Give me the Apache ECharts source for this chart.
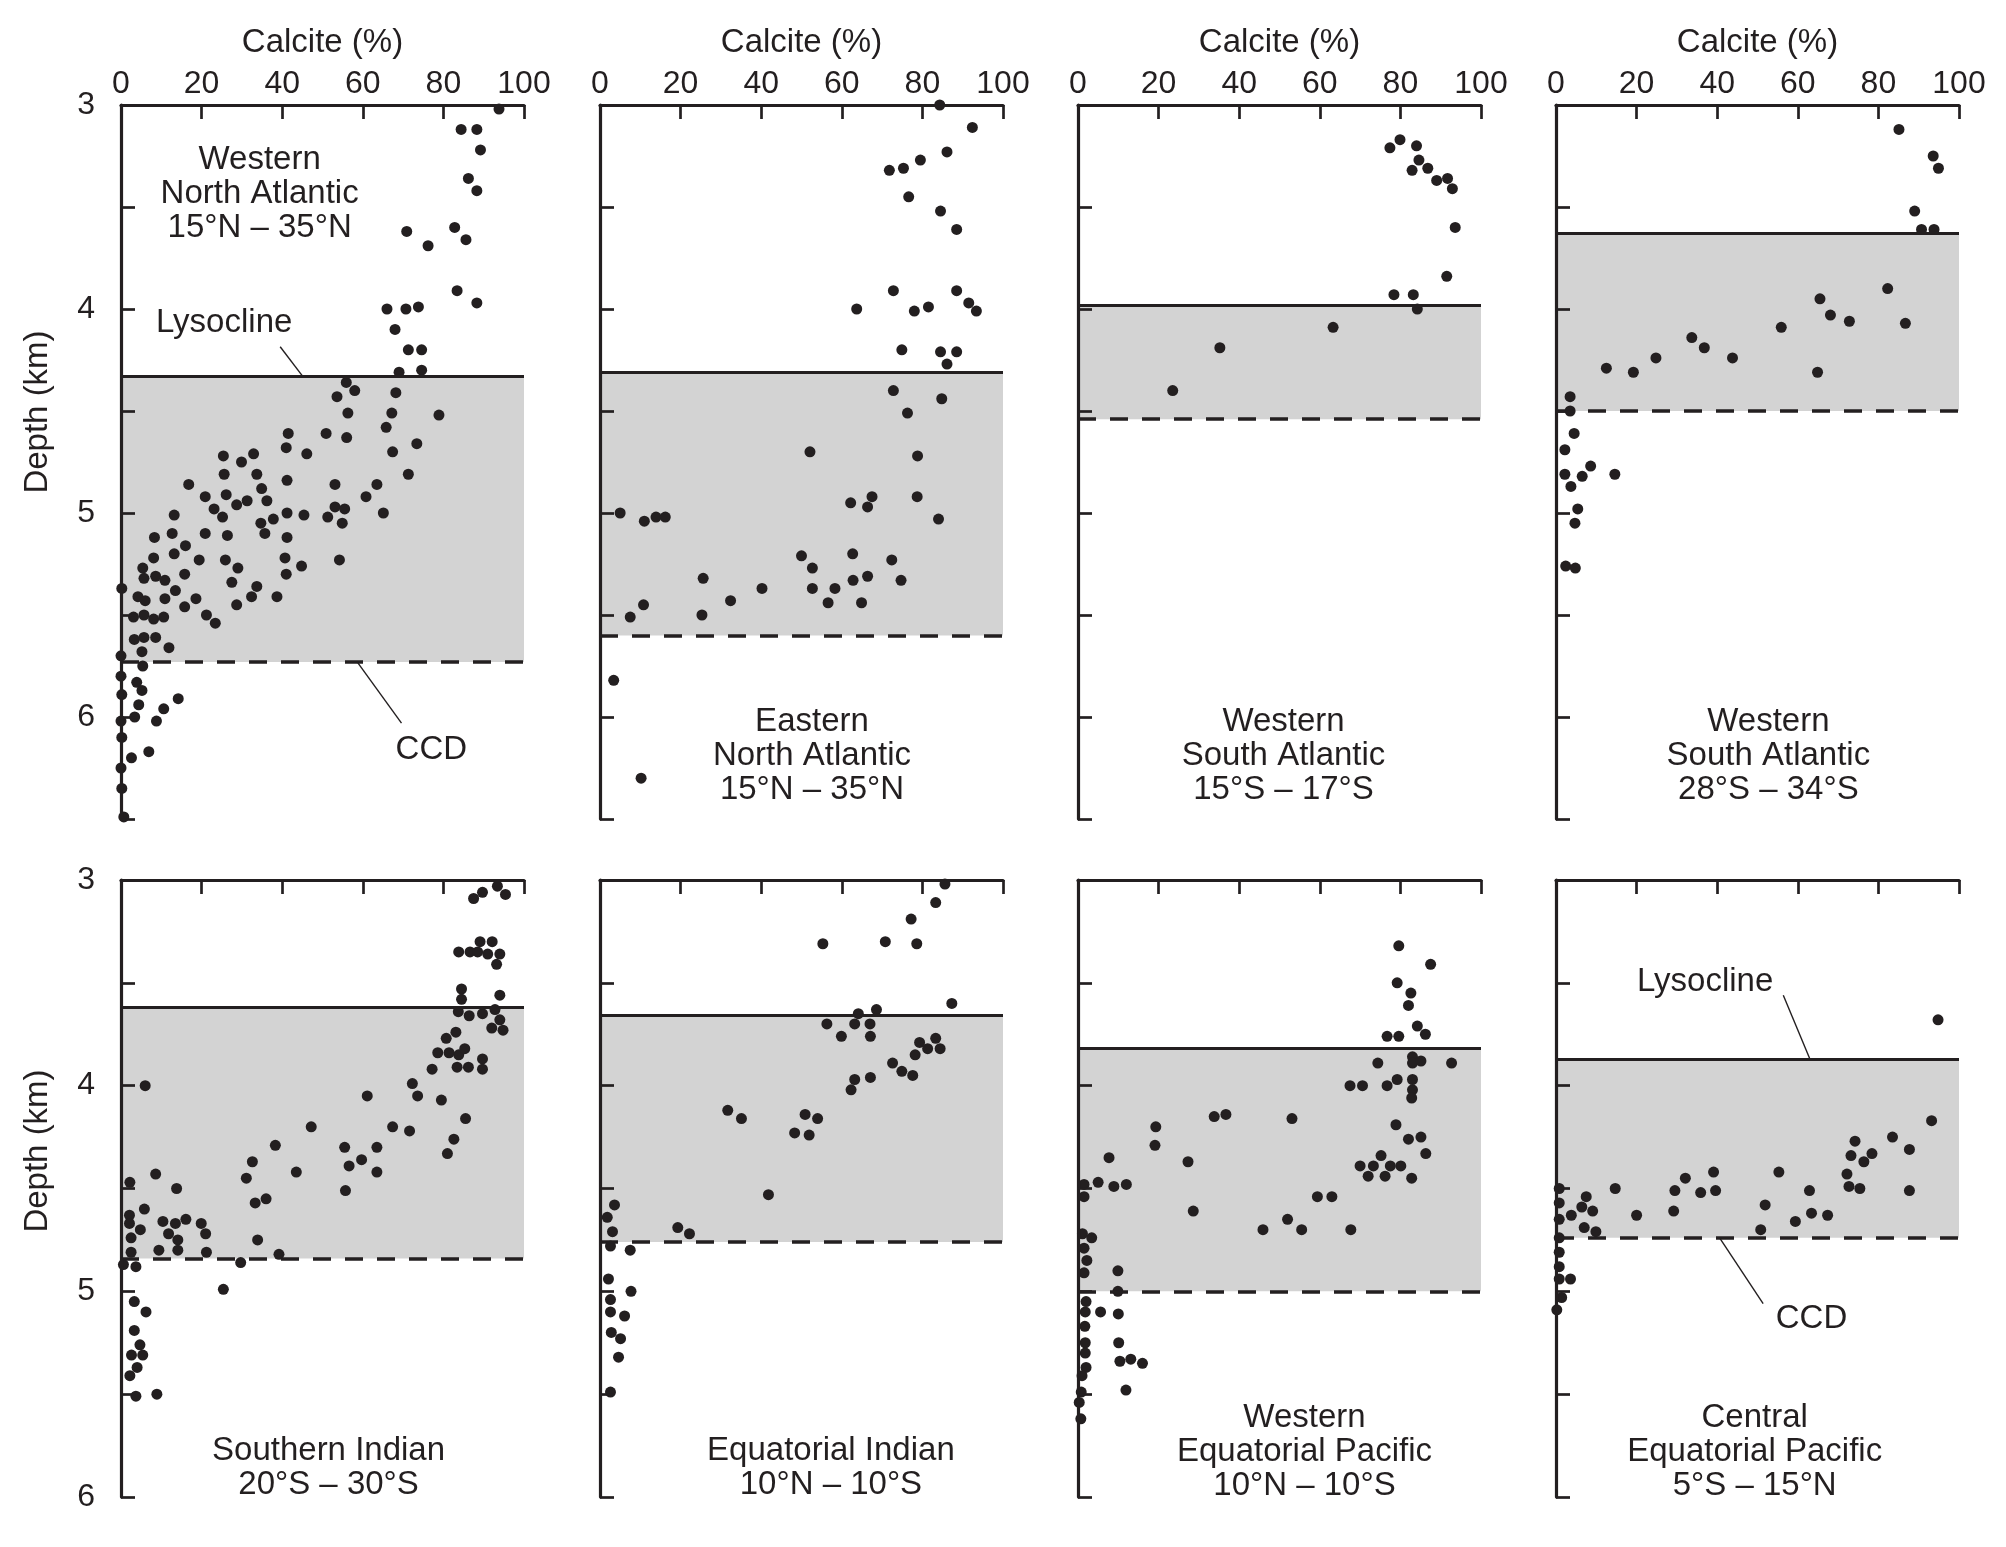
<!DOCTYPE html>
<html>
<head>
<meta charset="utf-8">
<title>Calcite vs depth</title>
<script src="https://cdn.jsdelivr.net/npm/echarts@6/dist/echarts.min.js"></script>
<style>
  html, body { margin: 0; padding: 0; background: #fff; }
  #chart { width: 2006px; height: 1547px; }
</style>
</head>
<body>
<div id="chart"></div>
<script>
// [calcite %, depth km] per region
const westNorthAtlantic = [
  [93.8,3.02],[84.4,3.12],[88.3,3.12],[89.2,3.22],[86.2,3.36],[88.3,3.42],[70.9,3.62],[82.8,3.60],[85.6,3.66],[76.2,3.69],
  [83.4,3.91],[88.3,3.97],[66.0,4.00],[70.7,4.00],[73.8,3.99],[68.0,4.10],[71.3,4.20],[74.6,4.20],[69.0,4.31],[74.6,4.30],
  [55.9,4.36],[58.0,4.40],[53.6,4.43],[68.2,4.41],[56.3,4.51],[67.2,4.51],[78.9,4.52],[65.8,4.58],[41.5,4.61],[50.9,4.61],
  [56.0,4.63],[41.0,4.68],[67.4,4.70],[73.4,4.66],[46.1,4.71],[25.4,4.72],[32.9,4.71],[29.9,4.75],[25.6,4.81],[33.7,4.81],
  [71.3,4.81],[34.9,4.88],[41.2,4.84],[16.8,4.86],[53.1,4.86],[63.5,4.86],[20.9,4.92],[26.1,4.91],[31.3,4.94],[36.2,4.94],
  [28.7,4.96],[60.8,4.92],[23.1,4.98],[53.1,4.97],[55.5,4.98],[25.2,5.02],[13.2,5.01],[41.2,5.00],[45.4,5.01],[51.3,5.02],
  [65.1,5.00],[34.7,5.05],[37.8,5.03],[54.9,5.05],[35.7,5.10],[12.7,5.10],[20.9,5.10],[26.4,5.11],[8.3,5.12],[41.2,5.12],
  [16.0,5.16],[13.2,5.20],[8.1,5.22],[19.4,5.23],[25.9,5.23],[40.7,5.22],[54.2,5.23],[5.4,5.27],[29.0,5.27],[44.8,5.26],
  [5.7,5.32],[8.6,5.31],[10.9,5.33],[15.8,5.30],[41.0,5.30],[27.5,5.34],[0.2,5.37],[13.5,5.38],[33.7,5.36],[4.2,5.41],
  [6.0,5.43],[10.9,5.42],[18.6,5.42],[32.4,5.41],[38.7,5.41],[15.8,5.46],[28.7,5.45],[3.1,5.51],[5.7,5.50],[8.1,5.52],
  [10.6,5.51],[21.2,5.50],[23.4,5.54],[3.3,5.62],[5.7,5.61],[8.6,5.61],[11.9,5.66],[5.2,5.68],[0,5.70],[5.4,5.75],
  [0,5.80],[3.9,5.83],[5.2,5.87],[0.2,5.89],[4.4,5.94],[14.2,5.91],[10.6,5.96],[0,6.02],[3.4,6.00],[8.8,6.02],
  [0.2,6.10],[6.9,6.17],[2.6,6.20],[0,6.25],[0.2,6.35],[0.7,6.49]
];
const eastNorthAtlantic = [
  [84.3,3.00],[92.4,3.11],[86.1,3.23],[79.5,3.27],[71.8,3.32],[75.3,3.31],[76.6,3.45],[84.5,3.52],[88.5,3.61],[72.8,3.91],
  [88.5,3.91],[91.5,3.97],[93.4,4.01],[63.7,4.00],[78.0,4.01],[81.5,3.99],[74.9,4.20],[84.5,4.21],[88.5,4.21],[86.1,4.27],
  [72.8,4.40],[84.8,4.44],[76.3,4.51],[78.8,4.72],[52.1,4.70],[67.5,4.92],[78.7,4.92],[62.2,4.95],[66.4,4.97],[5.0,5.00],
  [11.0,5.04],[13.9,5.02],[16.2,5.02],[84.0,5.03],[50.0,5.21],[62.7,5.20],[72.4,5.23],[52.7,5.27],[25.6,5.32],[62.8,5.33],
  [66.4,5.31],[74.7,5.33],[40.2,5.37],[52.7,5.37],[58.3,5.37],[32.4,5.43],[56.6,5.44],[64.9,5.44],[10.8,5.45],[7.5,5.51],
  [25.3,5.50],[3.4,5.82],[10.2,6.30]
];
const westSouthAtlanticN = [
  [77.4,3.21],[79.9,3.17],[84.0,3.20],[84.6,3.27],[82.9,3.32],[86.8,3.31],[89.0,3.37],[91.7,3.36],[92.9,3.41],[93.6,3.60],
  [91.5,3.84],[78.4,3.93],[83.2,3.93],[84.2,4.00],[63.3,4.09],[35.2,4.19],[23.5,4.40]
];
const westSouthAtlanticS = [
  [85.1,3.12],[93.6,3.25],[94.9,3.31],[89.0,3.52],[90.7,3.61],[93.8,3.61],[82.3,3.90],[65.5,3.95],[68.1,4.03],[72.8,4.06],
  [86.7,4.07],[55.9,4.09],[33.7,4.14],[36.8,4.19],[24.8,4.24],[43.8,4.24],[12.5,4.29],[19.2,4.31],[64.9,4.31],[3.5,4.43],
  [3.5,4.50],[4.5,4.61],[2.2,4.69],[8.6,4.77],[2.2,4.81],[6.5,4.82],[14.6,4.81],[3.7,4.87],[5.4,4.98],[4.7,5.05],
  [2.4,5.26],[4.8,5.27]
];
const southernIndian = [
  [93.4,3.03],[95.4,3.07],[89.7,3.06],[87.5,3.09],[89.1,3.30],[92.1,3.30],[83.8,3.35],[86.6,3.35],[88.5,3.35],[91.0,3.36],
  [94.0,3.36],[93.2,3.41],[84.5,3.53],[84.5,3.58],[94.0,3.56],[83.7,3.64],[86.4,3.66],[89.7,3.65],[92.8,3.63],[94.0,3.68],
  [92.0,3.72],[94.8,3.73],[83.1,3.74],[80.7,3.77],[78.6,3.84],[81.4,3.84],[83.8,3.85],[85.3,3.82],[89.7,3.87],[77.2,3.92],
  [83.4,3.91],[86.2,3.91],[89.7,3.92],[72.3,3.99],[73.6,4.05],[79.5,4.07],[61.1,4.05],[6.0,4.00],[85.5,4.16],[47.2,4.20],
  [67.4,4.20],[71.6,4.22],[82.6,4.26],[81.0,4.33],[38.3,4.29],[55.5,4.30],[63.5,4.30],[32.6,4.37],[56.6,4.39],[59.7,4.36],
  [63.5,4.42],[43.5,4.42],[31.1,4.45],[8.6,4.43],[2.2,4.47],[55.7,4.51],[13.8,4.50],[36.0,4.55],[33.3,4.57],[5.8,4.60],
  [2.1,4.63],[2.1,4.67],[10.4,4.66],[13.5,4.67],[16.1,4.65],[19.9,4.67],[4.8,4.70],[11.8,4.72],[21.0,4.72],[2.5,4.74],
  [14.1,4.75],[33.9,4.75],[2.5,4.81],[9.4,4.80],[14.1,4.80],[21.2,4.81],[39.2,4.82],[0.6,4.87],[3.7,4.88],[29.7,4.86],
  [25.4,4.99],[3.3,5.05],[6.2,5.10],[3.3,5.19],[4.7,5.26],[2.6,5.31],[5.4,5.31],[4.0,5.37],[2.2,5.41],[3.7,5.51],
  [8.9,5.50]
];
const equatorialIndian = [
  [85.6,3.02],[83.3,3.11],[77.2,3.19],[55.3,3.31],[70.8,3.30],[78.6,3.31],[87.3,3.60],[64.1,3.65],[68.6,3.63],[56.3,3.70],
  [63.2,3.70],[67.0,3.70],[59.9,3.76],[67.1,3.76],[79.3,3.79],[81.3,3.82],[83.3,3.77],[84.4,3.82],[78.2,3.85],[72.6,3.89],
  [74.9,3.93],[77.6,3.95],[63.2,3.97],[67.1,3.96],[62.3,4.02],[31.7,4.12],[35.1,4.16],[50.9,4.14],[54.0,4.16],[48.3,4.23],
  [51.9,4.24],[41.8,4.53],[3.6,4.58],[1.8,4.64],[3.1,4.71],[19.3,4.69],[22.2,4.72],[2.6,4.78],[7.5,4.80],[2.1,4.94],
  [7.7,5.00],[2.6,5.04],[2.6,5.10],[6.1,5.12],[2.8,5.20],[5.1,5.23],[4.6,5.32],[2.6,5.49]
];
const westEqPacific = [
  [79.6,3.32],[87.5,3.41],[79.2,3.50],[82.6,3.55],[82.0,3.61],[84.2,3.71],[86.2,3.75],[76.7,3.76],[79.6,3.76],[83.0,3.86],
  [83.0,3.89],[85.1,3.88],[74.4,3.89],[92.7,3.89],[79.2,3.97],[83.0,3.97],[83.0,4.02],[82.8,4.06],[67.5,4.00],[70.6,4.00],
  [76.7,4.00],[33.8,4.15],[36.7,4.14],[53.1,4.16],[19.3,4.20],[78.9,4.19],[19.1,4.29],[82.0,4.26],[85.1,4.25],[86.3,4.33],
  [7.7,4.35],[27.3,4.37],[75.2,4.34],[70.0,4.39],[73.3,4.39],[77.5,4.39],[80.1,4.39],[72.0,4.44],[76.2,4.44],[82.8,4.45],
  [1.5,4.48],[5.0,4.47],[8.9,4.49],[12.0,4.48],[1.5,4.54],[59.4,4.54],[63.0,4.54],[28.6,4.61],[52.0,4.65],[45.9,4.70],
  [55.5,4.70],[67.7,4.70],[1.1,4.72],[3.4,4.74],[1.5,4.79],[2.2,4.85],[1.5,4.91],[9.9,4.90],[9.9,5.00],[2.0,5.05],
  [1.8,5.10],[5.6,5.10],[10.0,5.11],[1.7,5.17],[1.8,5.25],[10.1,5.25],[1.8,5.30],[2.0,5.37],[10.4,5.34],[13.1,5.33],
  [16.0,5.35],[1.0,5.41],[0.8,5.49],[11.9,5.48],[0.3,5.54],[0.7,5.62]
];
const centralEqPacific = [
  [94.8,3.68],[93.2,4.17],[83.5,4.25],[87.7,4.31],[87.7,4.51],[74.2,4.27],[73.2,4.34],[76.4,4.37],[78.4,4.33],[72.2,4.43],
  [72.7,4.49],[75.4,4.50],[55.3,4.42],[62.9,4.51],[63.4,4.62],[67.4,4.63],[59.4,4.66],[51.9,4.58],[50.8,4.70],[39.1,4.42],
  [39.6,4.51],[32.1,4.45],[35.9,4.52],[29.5,4.51],[29.2,4.61],[20.0,4.63],[14.7,4.50],[7.5,4.54],[6.4,4.59],[9.1,4.61],
  [3.8,4.63],[7.0,4.69],[9.9,4.71],[0.8,4.50],[0.8,4.57],[0.8,4.65],[0.8,4.74],[0.8,4.81],[0.8,4.88],[0.8,4.94],
  [3.6,4.94],[1.4,5.03],[0.2,5.09]
];

const regions = [westNorthAtlantic, eastNorthAtlantic, westSouthAtlanticN, westSouthAtlanticS,
                 southernIndian, equatorialIndian, westEqPacific, centralEqPacific];
const lysocline = [4.33, 4.31, 3.975, 3.63, 3.62, 3.66, 3.82, 3.87];
const ccd = [5.73, 5.60, 4.54, 4.50, 4.84, 4.76, 5.00, 4.74];
const regionLabels = [
  'Western\nNorth Atlantic\n15°N – 35°N',
  'Eastern\nNorth Atlantic\n15°N – 35°N',
  'Western\nSouth Atlantic\n15°S – 17°S',
  'Western\nSouth Atlantic\n28°S – 34°S',
  'Southern Indian\n20°S – 30°S',
  'Equatorial Indian\n10°N – 10°S',
  'Western\nEquatorial Pacific\n10°N – 10°S',
  'Central\nEquatorial Pacific\n5°S – 15°N'
];
// label centre in data units [calcite, depth]
const regionLabelAt = [[34.4, 3.435], [52.6, 6.19], [51, 6.19], [52.7, 6.19],
                       [51.5, 5.86], [57.3, 5.86], [56.2, 5.78], [49.3, 5.78]];
// "Lysocline" / "CCD" callouts: panel, text, text position, leader from, leader to
const callouts = [
  [0, 'Lysocline', [25.6, 4.07], [39.5, 4.185], [45.1, 4.33]],
  [0, 'CCD', [77, 6.16], [58.6, 5.73], [69.6, 6.03]],
  [7, 'Lysocline', [37, 3.497], [56.4, 3.56], [63, 3.87]],
  [7, 'CCD', [63.4, 5.135], [40.6, 4.74], [51.4, 5.06]]
];
const calciteTitle = 'Calcite (%)';
const depthTitle = 'Depth (km)';

const ink = '#231f20';
const font = '"Liberation Sans", Arial, Helvetica, sans-serif';
const fs = 32;    // tick labels
const fsText = 33; // titles and notes

const panelLeft = [121, 600, 1078, 1556];
const rowTop = [105, 880];
const rowHeight = [714, 617];
const rowMax = [6.5, 6];

let chart = echarts.init(document.getElementById('chart'));

let grids = [], xAxes = [], yAxes = [], series = [];
for (let i = 0; i < 8; i++) {
  let row = i < 4 ? 0 : 1;
  let col = i % 4;
  grids.push({ left: panelLeft[col], top: rowTop[row], width: 403, height: rowHeight[row] });
  xAxes.push({
    gridIndex: i, type: 'value', position: 'top', min: 0, max: 100, interval: 20,
    axisLine: { onZero: false, lineStyle: { color: ink, width: 3.2 } },
    axisTick: { inside: true, length: 14, lineStyle: { color: ink, width: 2.7 } },
    axisLabel: { show: row === 0, fontSize: fs, color: ink, fontFamily: font, margin: 5 },
    splitLine: { show: false },
    z: 10
  });
  yAxes.push({
    gridIndex: i, type: 'value', inverse: true, min: 3, max: rowMax[row], interval: 0.5,
    axisLine: { onZero: false, lineStyle: { color: ink, width: 3.2 } },
    axisTick: { inside: true, length: 14, lineStyle: { color: ink, width: 2.7 } },
    axisLabel: {
      show: col === 0, fontSize: fs, color: ink, fontFamily: font, margin: 26,
      formatter: v => Number.isInteger(v) ? String(v) : ''
    },
    splitLine: { show: false },
    z: 10
  });

  // grey band between lysocline and CCD
  series.push({
    type: 'scatter', xAxisIndex: i, yAxisIndex: i, data: [], z: 1, silent: true,
    markArea: {
      silent: true,
      itemStyle: { color: '#d3d3d3' },
      data: [[{ yAxis: lysocline[i] }, { yAxis: ccd[i] }]]
    }
  });

  let lines = [
    { yAxis: lysocline[i], lineStyle: { type: 'solid', width: 3.2, color: ink } },
    { yAxis: ccd[i], lineStyle: { type: [18, 14], width: 3.5, color: ink } }
  ];
  callouts.filter(c => c[0] === i).forEach(c => {
    lines.push([{ coord: c[3], lineStyle: { type: 'solid', width: 1.4, color: ink } }, { coord: c[4] }]);
  });
  series.push({
    type: 'scatter', xAxisIndex: i, yAxisIndex: i, data: [], z: 2, silent: true,
    markLine: {
      silent: true, symbol: ['none', 'none'], animation: false,
      label: { show: false },
      data: lines
    }
  });

  series.push({
    type: 'scatter', xAxisIndex: i, yAxisIndex: i, z: 3,
    symbol: 'circle', symbolSize: 11,
    itemStyle: { color: ink, opacity: 1 },
    emphasis: { disabled: true },
    data: regions[i]
  });
}

chart.setOption({
  backgroundColor: '#ffffff',
  animation: false,
  grid: grids,
  xAxis: xAxes,
  yAxis: yAxes,
  series: series
});

// text annotations placed from data coordinates
let graphics = [];
const txt = (x, y, text, extra) => Object.assign({
  type: 'text', x: x, y: y, z: 20, silent: true,
  style: {
    text: text, fill: ink, fontSize: fsText, fontFamily: font, lineHeight: 34,
    textAlign: 'center', textVerticalAlign: 'middle'
  }
}, extra || {});

for (let i = 0; i < 8; i++) {
  let p = chart.convertToPixel({ gridIndex: i }, regionLabelAt[i]);
  graphics.push(txt(p[0], p[1], regionLabels[i]));
}
for (let i = 0; i < 4; i++) {
  let p = chart.convertToPixel({ gridIndex: i }, [50, 3]);
  graphics.push(txt(p[0], 43, calciteTitle));
}
callouts.forEach(c => {
  let p = chart.convertToPixel({ gridIndex: c[0] }, c[2]);
  graphics.push(txt(p[0], p[1], c[1]));
});
graphics.push(txt(38, 412, depthTitle, { rotation: Math.PI / 2 }));
graphics.push(txt(38, 1151, depthTitle, { rotation: Math.PI / 2 }));

chart.setOption({ graphic: graphics });
</script>
</body>
</html>
